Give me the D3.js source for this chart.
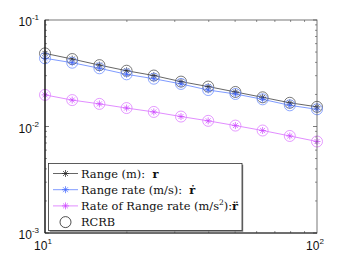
<!DOCTYPE html>
<html><head><meta charset="utf-8">
<script src="https://cdn.jsdelivr.net/npm/d3@7"></script>
<style>body{margin:0;background:#fff}svg{display:block}text{white-space:pre}</style>
</head><body>
<svg id="c" width="350" height="264"></svg>
<script>
const snr = [10, 12.59, 15.85, 19.95, 25.12, 31.62, 39.81, 50.12, 63.10, 79.43, 100];
const rangeErr = [0.0486, 0.0430, 0.0377, 0.0334, 0.0301, 0.0264, 0.0237, 0.0211, 0.0188, 0.0167, 0.0153];
const rateErr  = [0.0437, 0.0397, 0.0352, 0.0309, 0.0281, 0.0251, 0.0220, 0.0202, 0.0180, 0.0158, 0.0145];
const accErr   = [0.0198, 0.0177, 0.0163, 0.0149, 0.0137, 0.0124, 0.0113, 0.0102, 0.00917, 0.00815, 0.00723];
const xTicks = [10, 100];
const yTicks = [1e-3, 1e-2, 1e-1];
const xTickLabels = ["1", "2"];
const yTickLabels = ["-3", "-2", "-1"];

const svg = d3.select("#c");
const L = 45, T = 20, R = 317, B = 233;
const x = d3.scaleLog().domain([10, 100]).range([L, R]);
const y = d3.scaleLog().domain([1e-3, 1e-1]).range([B, T]);

const series = [
  {v: rangeErr, line: "#555555", mark: "#222222"},
  {v: rateErr, line: "#7090ff", mark: "#3f66ff"},
  {v: accErr, line: "#de80ff", mark: "#cc44ff"}
];

const g = svg.append("g");
const minorX = d3.range(2, 10).map(d => d * 10);
const minorY = [];
[1e-3, 1e-2].forEach(dec => { for (let k = 2; k <= 9; k++) minorY.push(dec * k); });
const tc = "#444";
minorX.forEach(v => {
  g.append("line").attr("x1", x(v)).attr("x2", x(v)).attr("y1", B).attr("y2", B - 2).attr("stroke", tc).attr("stroke-width", 0.6);
  g.append("line").attr("x1", x(v)).attr("x2", x(v)).attr("y1", T).attr("y2", T + 2).attr("stroke", tc).attr("stroke-width", 0.6);
});
minorY.forEach(v => {
  g.append("line").attr("x1", L).attr("x2", L + 2).attr("y1", y(v)).attr("y2", y(v)).attr("stroke", tc).attr("stroke-width", 0.6);
  g.append("line").attr("x1", R).attr("x2", R - 2).attr("y1", y(v)).attr("y2", y(v)).attr("stroke", tc).attr("stroke-width", 0.6);
});
yTicks.forEach(v => {
  g.append("line").attr("x1", L).attr("x2", L + 4).attr("y1", y(v)).attr("y2", y(v)).attr("stroke", tc).attr("stroke-width", 0.7);
  g.append("line").attr("x1", R).attr("x2", R - 4).attr("y1", y(v)).attr("y2", y(v)).attr("stroke", tc).attr("stroke-width", 0.7);
});

const line = d3.line().x((d, i) => x(snr[i])).y(d => y(d));
series.forEach(s => {
  svg.append("path").attr("d", line(s.v)).attr("fill", "none").attr("stroke", s.line).attr("stroke-width", 0.9);
});
function star(sel, cx, cy, r, col) {
  for (let a = 0; a < 4; a++) {
    const ang = a * Math.PI / 4;
    sel.append("line").attr("x1", cx - r * Math.cos(ang)).attr("y1", cy - r * Math.sin(ang))
      .attr("x2", cx + r * Math.cos(ang)).attr("y2", cy + r * Math.sin(ang))
      .attr("stroke", col).attr("stroke-width", 0.7);
  }
}
series.forEach(s => {
  const mg = svg.append("g");
  s.v.forEach((d, i) => {
    const cx = x(snr[i]), cy = y(d);
    star(mg, cx, cy, 3.5, s.mark);
    mg.append("circle").attr("cx", cx).attr("cy", cy).attr("r", 5.5).attr("fill", "none")
      .attr("stroke", s.line).attr("stroke-width", 0.8);
  });
});

svg.append("rect").attr("x", L).attr("y", T).attr("width", R - L).attr("height", B - T)
  .attr("fill", "none").attr("stroke", "#555").attr("stroke-width", 0.8);
svg.append("line").attr("x1", L).attr("x2", L).attr("y1", T).attr("y2", B).attr("stroke", "#000").attr("stroke-width", 1.1);
svg.append("line").attr("x1", L).attr("x2", R).attr("y1", B).attr("y2", B).attr("stroke", "#222").attr("stroke-width", 1);

const font = "Liberation Sans, Arial, sans-serif";
yTicks.forEach((v, i) => {
  const t = svg.append("text").attr("x", 39).attr("y", y(v) + 6).attr("text-anchor", "end")
    .attr("font-family", font).attr("font-size", 12).attr("fill", "#111");
  t.append("tspan").text("10");
  t.append("tspan").attr("dy", -6).attr("font-size", 8).text(yTickLabels[i]);
});
xTicks.forEach((v, i) => {
  const t = svg.append("text").attr("x", x(v) - 2).attr("y", 250).attr("text-anchor", "middle")
    .attr("font-family", font).attr("font-size", 12).attr("fill", "#111");
  t.append("tspan").text("10");
  t.append("tspan").attr("dy", -6).attr("font-size", 8).text(xTickLabels[i]);
});

const lg = svg.append("g");
const lx = 48.5, ly = 163.5, lw = 193.5, lh = 67;
lg.append("rect").attr("x", lx + 1.2).attr("y", ly + 1.2).attr("width", lw).attr("height", lh).attr("fill", "#777");
lg.append("rect").attr("x", lx).attr("y", ly).attr("width", lw).attr("height", lh).attr("fill", "#fff").attr("stroke", "#333").attr("stroke-width", 0.8);
const sf = "'DejaVu Serif', serif";
const rows = [
  {col: series[0], parts: [["Range (m):  ", null], ["r", "bold"]]},
  {col: series[1], parts: [["Range rate (m/s):  ", null], ["\u1E59", "bold"]]},
  {col: series[2], parts: [["Rate of Range rate (m/s", null], ["2", "sup"], ["):", null], ["r\u0308", "bold"]]},
  {col: null, parts: [["RCRB", null]]}
];
rows.forEach((r, i) => {
  const cy = 173.5 + i * 16.2;
  if (r.col) {
    lg.append("line").attr("x1", 53).attr("x2", 78).attr("y1", cy).attr("y2", cy).attr("stroke", r.col.line).attr("stroke-width", 0.9);
    star(lg, 65.5, cy, 3.5, r.col.mark);
  } else {
    lg.append("circle").attr("cx", 65.5).attr("cy", cy).attr("r", 5.5).attr("fill", "none").attr("stroke", "#222").attr("stroke-width", 0.8);
  }
  const t = lg.append("text").attr("x", 81).attr("y", cy + 4).attr("font-family", sf).attr("font-size", 11.4).attr("fill", "#111");
  r.parts.forEach(p => {
    const ts = t.append("tspan").text(p[0]);
    if (p[1] === "bold") ts.attr("font-weight", "bold");
    if (p[1] === "sup") { ts.attr("dy", -5).attr("font-size", 7.5); }
    if (p[0] === "):") ts.attr("dy", 5);
  });
});
</script>
</body></html>
